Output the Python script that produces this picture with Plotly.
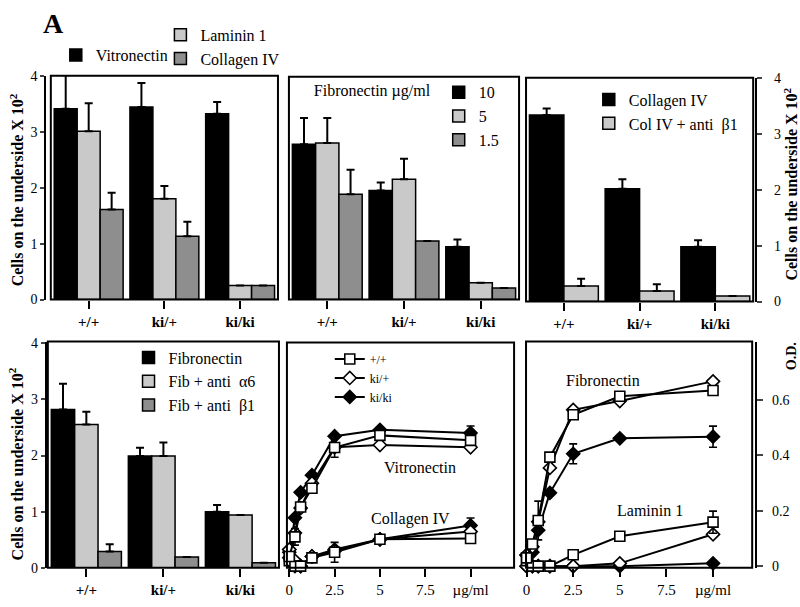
import plotly.graph_objects as go

W, H = 800, 607
SERIF = "Liberation Serif"

# ---------------- data ----------------
genotypes = ["+/+", "ki/+", "ki/ki"]

# Panel 1: migration on different substrates
p1_vitronectin = [3.41, 3.44, 3.32]
p1_vitronectin_err = [0.60, 0.43, 0.21]
p1_laminin = [3.01, 1.80, 0.25]
p1_laminin_err = [0.50, 0.23, 0]
p1_collagen = [1.61, 1.13, 0.25]
p1_collagen_err = [0.30, 0.26, 0]

# Panel 2: fibronectin concentrations (ug/ml)
p2_fn10 = [2.79, 1.96, 0.95]
p2_fn10_err = [0.47, 0.14, 0.13]
p2_fn5 = [2.81, 2.16, 0.30]
p2_fn5_err = [0.45, 0.37, 0]
p2_fn15 = [1.89, 1.05, 0.21]
p2_fn15_err = [0.44, 0, 0]

# Panel 3: collagen IV +/- anti beta1
p3_col = [3.34, 2.02, 0.98]
p3_col_err = [0.12, 0.17, 0.12]
p3_col_b1 = [0.28, 0.19, 0.10]
p3_col_b1_err = [0.13, 0.12, 0]

# Panel 4: fibronectin +/- antibodies
p4_fib = [2.82, 1.99, 1.00]
p4_fib_err = [0.46, 0.15, 0.12]
p4_a6 = [2.55, 1.99, 0.94]
p4_a6_err = [0.23, 0.24, 0]
p4_b1 = [0.29, 0.19, 0.09]
p4_b1_err = [0.13, 0, 0]

# Adhesion assays (O.D.) vs coating concentration (ug/ml)
conc = [0, 0.3125, 0.625, 1.25, 2.5, 5, 10]

vn_wt = [0.035, 0.106, 0.214, 0.282, 0.429, 0.473, 0.455]
vn_wt_err = [0, 0.03, 0, 0, 0.035, 0, 0]
vn_het = [0.06, 0.12, 0.21, 0.30, 0.43, 0.438, 0.43]
vn_ki = [0.05, 0.175, 0.267, 0.329, 0.47, 0.493, 0.482]
vn_ki_err = [0, 0, 0, 0, 0, 0, 0.025]

c4_wt = [0.02, 0.0, 0.0, 0.03, 0.05, 0.097, 0.10]
c4_wt_err = [0, 0, 0, 0, 0.036, 0, 0]
c4_het = [0.06, 0.02, 0.0, 0.035, 0.055, 0.097, 0.125]
c4_ki = [0.03, 0.0, 0.0, 0.035, 0.06, 0.097, 0.147]
c4_ki_err = [0, 0, 0, 0, 0, 0, 0.027]

fn_wt = [0.03, 0.08, 0.165, 0.394, 0.547, 0.614, 0.635]
fn_wt_err = [0, 0, 0.07, 0, 0, 0, 0]
fn_het = [0.04, 0.07, 0.16, 0.355, 0.565, 0.597, 0.668]
fn_ki = [0.04, 0.05, 0.13, 0.265, 0.406, 0.462, 0.468]
fn_ki_err = [0, 0, 0, 0, 0.036, 0, 0.038]

lm_wt = [0.02, 0.0, 0.0, 0.0, 0.041, 0.108, 0.159]
lm_wt_err = [0, 0, 0, 0, 0, 0, 0.04]
lm_het = [0.0, 0.0, 0.0, 0.0, 0.0, 0.01, 0.115]
lm_ki = [0.0, 0.0, 0.0, 0.0, 0.0, 0.0, 0.01]

conc_ticks = [0, 2.5, 5, 7.5, 10]
conc_ticktext = ["0", "2.5", "5", "7.5", "µg/ml"]
cells_ticks = [0, 1, 2, 3, 4]
od_ticks = [0, 0.2, 0.4, 0.6]

BLACK = "#000000"
LIGHT = "#c9c9c9"
DARK = "#8e8e8e"

# ---------------- helpers ----------------
def fx(p):
    return p / W

def fy(p):
    return 1 - p / H

fig = go.Figure()

def add_bar(xa, ya, name, vals, errs, color, legend, show=True):
    fig.add_trace(go.Bar(
        x=genotypes, y=vals, name=name, xaxis=xa, yaxis=ya,
        marker=dict(color=color, line=dict(color="black", width=1.5)),
        error_y=dict(type="data", symmetric=False, array=errs,
                     arrayminus=[0] * len(errs), color="black",
                     thickness=2, width=4),
        cliponaxis=False, legend=legend, showlegend=show,
    ))

add_bar("x", "y", "Vitronectin", p1_vitronectin, p1_vitronectin_err, BLACK, "legend")
add_bar("x", "y", "Laminin 1", p1_laminin, p1_laminin_err, LIGHT, "legend2")
add_bar("x", "y", "Collagen IV", p1_collagen, p1_collagen_err, DARK, "legend2")

add_bar("x2", "y2", "10", p2_fn10, p2_fn10_err, BLACK, "legend3")
add_bar("x2", "y2", "5", p2_fn5, p2_fn5_err, LIGHT, "legend3")
add_bar("x2", "y2", "1.5", p2_fn15, p2_fn15_err, DARK, "legend3")

add_bar("x3", "y3", "Collagen IV", p3_col, p3_col_err, BLACK, "legend4")
add_bar("x3", "y3", "Col IV + anti  β1", p3_col_b1, p3_col_b1_err, LIGHT, "legend4")

add_bar("x4", "y4", "Fibronectin", p4_fib, p4_fib_err, BLACK, "legend5")
add_bar("x4", "y4", "Fib + anti  α6", p4_a6, p4_a6_err, LIGHT, "legend5")
add_bar("x4", "y4", "Fib + anti  β1", p4_b1, p4_b1_err, DARK, "legend5")

SQ = dict(symbol="square", size=10, color="white", line=dict(color="black", width=1.6))
OD_ = dict(symbol="diamond", size=10, color="white", line=dict(color="black", width=1.6))
FD = dict(symbol="diamond", size=10, color="black", line=dict(color="black", width=1.6))

def add_line(xa, ya, name, vals, marker, errs=None, show=False):
    err = None
    if errs is not None:
        err = dict(type="data", array=errs, color="black", thickness=1.6, width=4)
    fig.add_trace(go.Scatter(
        x=conc, y=vals, name=name, xaxis=xa, yaxis=ya, mode="lines+markers",
        line=dict(color="black", width=2), marker=marker, error_y=err,
        cliponaxis=False, legend="legend6", showlegend=show,
    ))

add_line("x5", "y5", "ki/ki", c4_ki, FD, c4_ki_err)
add_line("x5", "y5", "ki/+", c4_het, OD_)
add_line("x5", "y5", "+/+", c4_wt, SQ, c4_wt_err)
add_line("x5", "y5", "ki/ki", vn_ki, FD, vn_ki_err)
add_line("x5", "y5", "ki/+", vn_het, OD_)
add_line("x5", "y5", "+/+", vn_wt, SQ, vn_wt_err)

add_line("x6", "y6", "ki/ki", lm_ki, FD)
add_line("x6", "y6", "ki/+", lm_het, OD_)
add_line("x6", "y6", "+/+", lm_wt, SQ, lm_wt_err)
add_line("x6", "y6", "ki/ki", fn_ki, FD, fn_ki_err)
add_line("x6", "y6", "ki/+", fn_het, OD_)
add_line("x6", "y6", "+/+", fn_wt, SQ, fn_wt_err)

# legend entries for the line panel (legend only, no data)
for nm, mk in [("+/+", SQ), ("ki/+", OD_), ("ki/ki", FD)]:
    fig.add_trace(go.Scatter(
        x=[None], y=[None], name=nm, xaxis="x5", yaxis="y5", mode="lines+markers",
        line=dict(color="black", width=2), marker=mk, legend="legend6", showlegend=True,
    ))

# ---------------- axes ----------------
tickfont = dict(family=SERIF, size=14, color="black")
cat_font = dict(family=SERIF, size=15, color="black", weight="bold")

panels = {
    1: dict(x=(48, 276), y=(300, 70.5)),
    2: dict(x=(287, 518), y=(300, 71.5)),
    3: dict(x=(525, 753), y=(302, 72.5)),
    4: dict(x=(45, 277), y=(575, 343)),
    5: dict(x=(285, 513), y=(575, 344)),
    6: dict(x=(525, 752), y=(575, 343)),
}

layout = dict(
    width=W, height=H, margin=dict(l=0, r=0, t=0, b=0),
    paper_bgcolor="white", plot_bgcolor="white",
    barmode="group", bargap=0.09, bargroupgap=0,
    font=dict(family=SERIF, color="black"),
)

for i, p in panels.items():
    sx = "" if i == 1 else str(i)
    layout["xaxis" + sx] = dict(
        domain=[fx(p["x"][0]), fx(p["x"][1])],
        anchor="y" + sx, showgrid=False, zeroline=False, showline=False,
        ticks="outside", ticklen=8, tickwidth=2, tickcolor="black",
    )
    layout["yaxis" + sx] = dict(
        domain=[fy(p["y"][0]), fy(p["y"][1])],
        anchor="x" + sx, showgrid=False, zeroline=False, showline=False,
    )

for i in (1, 2, 3, 4):
    sx = "" if i == 1 else str(i)
    layout["xaxis" + sx].update(tickfont=cat_font, range=[-0.5, 2.5])

for i in (5, 6):
    layout["xaxis%d" % i].update(tickvals=conc_ticks, ticktext=conc_ticktext,
                                 tickfont=dict(family=SERIF, size=15, color="black"))
layout["xaxis5"]["range"] = [-0.13, 12.4]
layout["xaxis6"]["range"] = [-0.03, 12.1]

layout["yaxis"].update(range=[0, 4.0], tickvals=cells_ticks, showticklabels=True,
                       anchor="free", position=fx(42.5), showline=True, linewidth=2,
                       linecolor="black", ticks="outside", ticklen=4, tickwidth=2,
                       tickfont=tickfont)
layout["yaxis2"].update(range=[0, 4.0], showticklabels=False)
layout["yaxis3"].update(range=[0, 4.01], tickvals=cells_ticks, side="right",
                        anchor="free", position=fx(756), showline=True, linewidth=2,
                        linecolor="black", ticks="outside", ticklen=5, tickwidth=2,
                        ticklabelstandoff=9, tickfont=tickfont)
layout["yaxis4"].update(range=[0, 4.03], tickvals=cells_ticks,
                        anchor="free", position=fx(43), showline=True, linewidth=2,
                        linecolor="black", ticks="outside", ticklen=4, tickwidth=2,
                        tickfont=tickfont)
layout["yaxis5"].update(range=[-0.006, 0.809], showticklabels=False)
layout["yaxis6"].update(range=[-0.006, 0.812], tickvals=od_ticks, side="right",
                        anchor="free", position=fx(756), showline=True, linewidth=2,
                        linecolor="black", ticks="outside", ticklen=6, tickwidth=2,
                        ticklabelstandoff=6, tickfont=tickfont)

# ---------------- legends ----------------
lg_common = dict(bgcolor="rgba(0,0,0,0)", borderwidth=0, xanchor="left", yanchor="top",
                 tracegroupgap=0, font=dict(family=SERIF, size=16, color="black"))
layout["legend"] = dict(lg_common, x=fx(53), y=fy(32))
layout["legend2"] = dict(lg_common, x=fx(158), y=fy(11))
layout["legend3"] = dict(lg_common, x=fx(310), y=fy(70),
                         title=dict(text="Fibronectin µg/ml", side="left",
                                    font=dict(family=SERIF, size=16, color="black")))
layout["legend4"] = dict(lg_common, x=fx(588), y=fy(77.5))
layout["legend5"] = dict(lg_common, x=fx(126), y=fy(342))
layout["legend6"] = dict(lg_common, x=fx(328), y=fy(346),
                         font=dict(family=SERIF, size=12, color="black"))

# ---------------- frames & text ----------------
shapes = []
for i in panels:
    sx = "" if i == 1 else str(i)
    shapes.append(dict(type="rect", xref="x%s domain" % sx, yref="y%s domain" % sx,
                       x0=0, x1=1, y0=0, y1=1, line=dict(color="black", width=2),
                       layer="above"))
layout["shapes"] = shapes

ytitle = "Cells on the underside X 10<sup>2</sup>"
tfont = dict(family=SERIF, size=16, color="black", weight="bold")

def ann(text, x, y, font, xref="paper", yref="paper", angle=0):
    return dict(text=text, x=x, y=y, xref=xref, yref=yref, showarrow=False,
                xanchor="center", yanchor="middle", textangle=angle, font=font)

annotations = [
    ann("A", fx(51), fy(17), dict(family=SERIF, size=28, color="black", weight="bold")),
    ann(ytitle, fx(14), fy(187), tfont, angle=-90),
    ann(ytitle, fx(14), fy(468), tfont, angle=-90),
    ann(ytitle, fx(790), fy(182), tfont, angle=-90),
    ann("O.D.", fx(791), fy(358), dict(family=SERIF, size=14, color="black", weight="bold"),
        angle=-90),
    ann("Vitronectin", 7.2, 0.357, dict(family=SERIF, size=16, color="black"), "x5", "y5"),
    ann("Collagen IV", 6.7, 0.17, dict(family=SERIF, size=16, color="black"), "x5", "y5"),
    ann("Fibronectin", 4.1, 0.67, dict(family=SERIF, size=16, color="black"), "x6", "y6"),
    ann("Laminin 1", 6.6, 0.20, dict(family=SERIF, size=16, color="black"), "x6", "y6"),
]
layout["annotations"] = annotations

fig.update_layout(**layout)
fig.write_html("out.html", config={"displayModeBar": False},
               post_script="document.body.style.margin='0px';")
